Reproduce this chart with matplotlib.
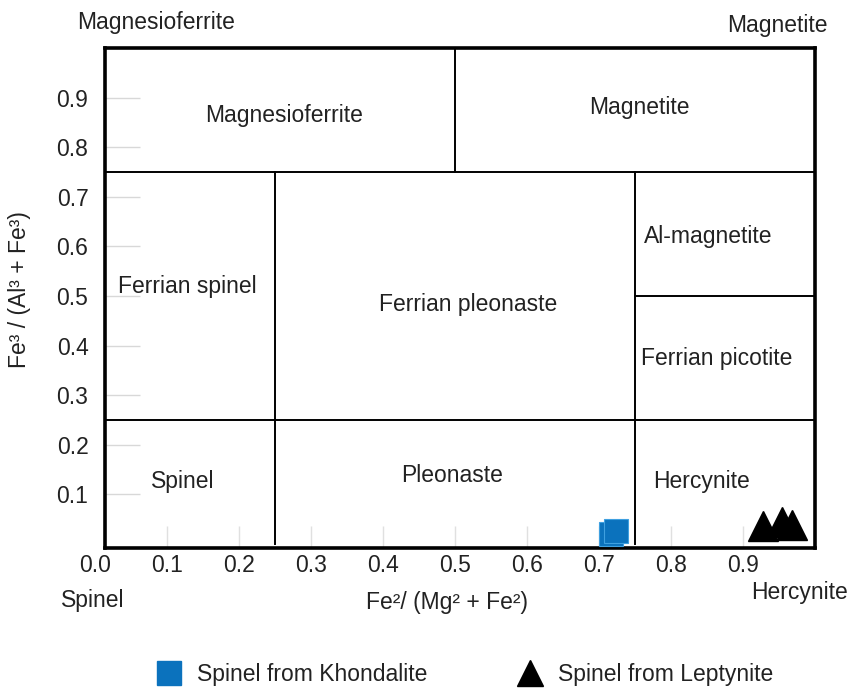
import matplotlib
matplotlib.use("Agg")
import matplotlib.pyplot as plt
from matplotlib.lines import Line2D

plt.rcParams['font.family'] = ['Liberation Sans', 'DejaVu Sans']

# ---- data ----
khondalite_x = [0.716, 0.723]
khondalite_y = [0.020, 0.027]
leptynite_x = [0.928, 0.954, 0.968]
leptynite_y = [0.036, 0.044, 0.038]

# field boundaries (x0, x1, y0, y1)
boundaries = [
    (0.014, 1.0, 0.75, 0.75),
    (0.5, 0.5, 0.75, 1.0),
    (0.014, 1.0, 0.25, 0.25),
    (0.25, 0.25, 0.0, 0.75),
    (0.75, 0.75, 0.0, 0.75),
    (0.75, 1.0, 0.5, 0.5),
]
field_names = ["Magnesioferrite", "Magnetite", "Al-magnetite", "Ferrian spinel",
               "Ferrian pleonaste", "Ferrian picotite", "Spinel", "Pleonaste", "Hercynite"]
field_x = [0.2625, 0.756, 0.851, 0.128, 0.518, 0.864, 0.122, 0.496, 0.843]
field_y = [0.863, 0.881, 0.619, 0.52, 0.482, 0.375, 0.127, 0.139, 0.127]

xticks = [0.0, 0.1, 0.2, 0.3, 0.4, 0.5, 0.6, 0.7, 0.8, 0.9]
yticks = [0.1, 0.2, 0.3, 0.4, 0.5, 0.6, 0.7, 0.8, 0.9]

FS = 16.5
TXT = '#222222'
W, H = 853, 689
fig = plt.figure(figsize=(W / 100, H / 100), dpi=100)
ax = fig.add_axes([95 / W, (H - 548) / H, 720 / W, 500 / H])
ax.set_xlim(0, 1.0)
ax.set_ylim(-0.008, 1.0)

for s in ['left', 'right', 'top', 'bottom']:
    ax.spines[s].set_linewidth(2.6)
ax.spines['left'].set_position(('data', 0.014))
ax.spines['top'].set_bounds(0.014, 1.0)
ax.spines['bottom'].set_bounds(0.014, 1.0)

for x0, x1, y0, y1 in boundaries:
    ax.plot([x0, x1], [y0, y1], color='black', lw=1.4, zorder=2)

for name, x, y in zip(field_names, field_x, field_y):
    ax.text(x, y, name, ha='center', va='center', fontsize=FS, color=TXT)

ax.plot(khondalite_x, khondalite_y, linestyle='none', marker='s', markersize=17,
        color='#0b72bd', markeredgecolor='#3fa0e0', markeredgewidth=0.8, zorder=4)
ax.plot(leptynite_x, leptynite_y, linestyle='none', marker='^', markersize=21,
        color='black', zorder=4)

ax.set_xticks(xticks)
ax.set_xticklabels([f"{v:.1f}" for v in xticks])
ax.set_yticks(yticks)
ax.set_yticklabels([f"{v:.1f}" for v in yticks])
ax.tick_params(axis='x', direction='in', length=16, width=1, color='#e0e0e0',
               labelsize=FS, pad=4, labelcolor=TXT)
ax.tick_params(axis='y', direction='in', length=25, width=1, color='#d8d8d8',
               labelsize=FS, pad=12, labelcolor=TXT)
ax.xaxis.get_major_ticks()[0].tick1line.set_visible(False)

fig.text(447 / W, 1 - 602 / H, "Fe²/ (Mg² + Fe²)", ha='center', va='center', fontsize=FS, color=TXT)
fig.text(20 / W, 1 - 290 / H, "Fe³ / (Al³ + Fe³)", ha='center', va='center', rotation=90,
         fontsize=FS, color=TXT)

fig.text(156 / W, 1 - 23 / H, "Magnesioferrite", ha='center', va='center', fontsize=FS, color=TXT)
fig.text(777 / W, 1 - 32 / H, "Magnetite", ha='center', va='baseline', fontsize=FS, color=TXT)
fig.text(93 / W, 1 - 600 / H, "Spinel", ha='center', va='center', fontsize=FS, color=TXT)
fig.text(800 / W, 1 - 593 / H, "Hercynite", ha='center', va='center', fontsize=FS, color=TXT)

handles = [Line2D([], [], linestyle='none', marker='s', markersize=17, color='#0b72bd'),
           Line2D([], [], linestyle='none', marker='^', markersize=19, color='black')]
fig.legend(handles, ["Spinel from Khondalite", "Spinel from Leptynite"], ncol=2,
           loc='center left', bbox_to_anchor=(158 / W, 1 - 675 / H), frameon=False,
           fontsize=FS, handlelength=1.0, handletextpad=0.7, columnspacing=4.0,
           borderpad=0, borderaxespad=0, labelcolor=TXT)

fig.savefig("out.png", dpi=100)
